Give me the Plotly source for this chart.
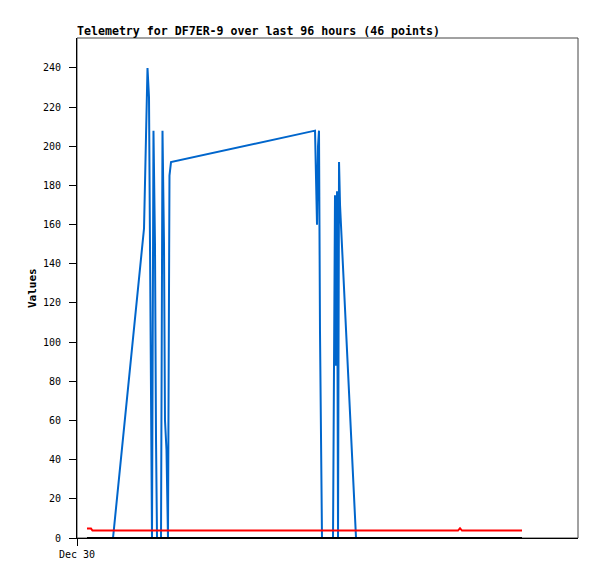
import pandas as pd
import plotly.graph_objects as go

BASE = pd.Timestamp("2023-12-30 00:00")

# hours after Dec 30 00:00, values
blue_hours = [7.95, 14.79, 15.23, 15.56, 15.89, 16.11, 16.33, 16.55, 16.88, 17.21, 17.44, 17.66,
              18.54, 18.87, 19.20, 19.42, 19.75, 20.08, 20.41, 20.75,
              52.53, 52.75, 52.97, 53.19, 53.41, 53.63, 53.85, 54.07,
              56.50, 56.94, 57.16, 57.39, 57.61, 57.83, 58.05, 61.58]
blue_values = [0, 158, 205, 240, 225, 160, 88, 0, 208, 150, 50, 0,
               0, 208, 150, 60, 45, 0, 185, 192,
               208, 170, 160, 200, 208, 105, 35, 0,
               0, 175, 88, 177, 0, 192, 170, 0]

red_hours = [2.21, 3.09, 3.42, 84.09, 84.53, 84.97, 98.21]
red_values = [4.8, 4.8, 3.8, 3.8, 5.0, 3.8, 3.8]

black_hours = [2.21, 98.21]
black_values = [0, 0]

y_ticks = list(range(0, 241, 20))
x_tick_label = "Dec 30"
title_text = "Telemetry for DF7ER-9 over last 96 hours (46 points)"


def to_time(hours):
    return [BASE + pd.Timedelta(hours=h) for h in hours]


FONT = "DejaVu Sans Mono"
W, H = 589, 571

fig = go.Figure()
fig.add_trace(go.Scatter(x=to_time(blue_hours), y=blue_values, mode="lines",
                         line=dict(color="#0066CC", width=2), showlegend=False))
fig.add_trace(go.Scatter(x=to_time(red_hours), y=red_values, mode="lines",
                         line=dict(color="#FF0000", width=2), showlegend=False))
fig.add_trace(go.Scatter(x=to_time(black_hours), y=black_values, mode="lines",
                         line=dict(color="#000000", width=2), showlegend=False))

fig.update_layout(
    width=W, height=H,
    margin=dict(l=69, r=19, t=30, b=41),
    paper_bgcolor="white", plot_bgcolor="white",
    font=dict(family=FONT, color="black", size=10),
    title=dict(text="<b>" + title_text + "</b>", x=69 / W, xanchor="left",
               xref="container", yref="container", y=1 - 23 / H, yanchor="middle",
               font=dict(family=FONT, size=11.6, color="black")),
    xaxis=dict(type="date", range=[BASE, BASE + pd.Timedelta(hours=110.57)],
               tickvals=[BASE], ticktext=[x_tick_label], ticks="outside", ticklen=7,
               tickcolor="black", showline=True, linecolor="black", linewidth=1,
               showgrid=False, zeroline=False, tickfont=dict(size=10)),
    yaxis=dict(range=[0, 255.3], tickvals=y_ticks, ticks="outside", ticklen=7,
               tickcolor="black", showline=True, linecolor="black", linewidth=1,
               showgrid=False, zeroline=False, tickfont=dict(size=10),
               ticklabelstandoff=6),
    shapes=[dict(type="rect", xref="paper", yref="paper", x0=0, y0=0, x1=1, y1=1,
                 line=dict(color="#444444", width=1), layer="below")],
    annotations=[dict(text="<b>Values</b>", xref="paper", yref="paper",
                      x=(32 - 77) / 501, y=0.5, xanchor="center", yanchor="middle",
                      textangle=-90, showarrow=False,
                      font=dict(family=FONT, size=11, color="black"))],
)

fig.write_html("out.html")
